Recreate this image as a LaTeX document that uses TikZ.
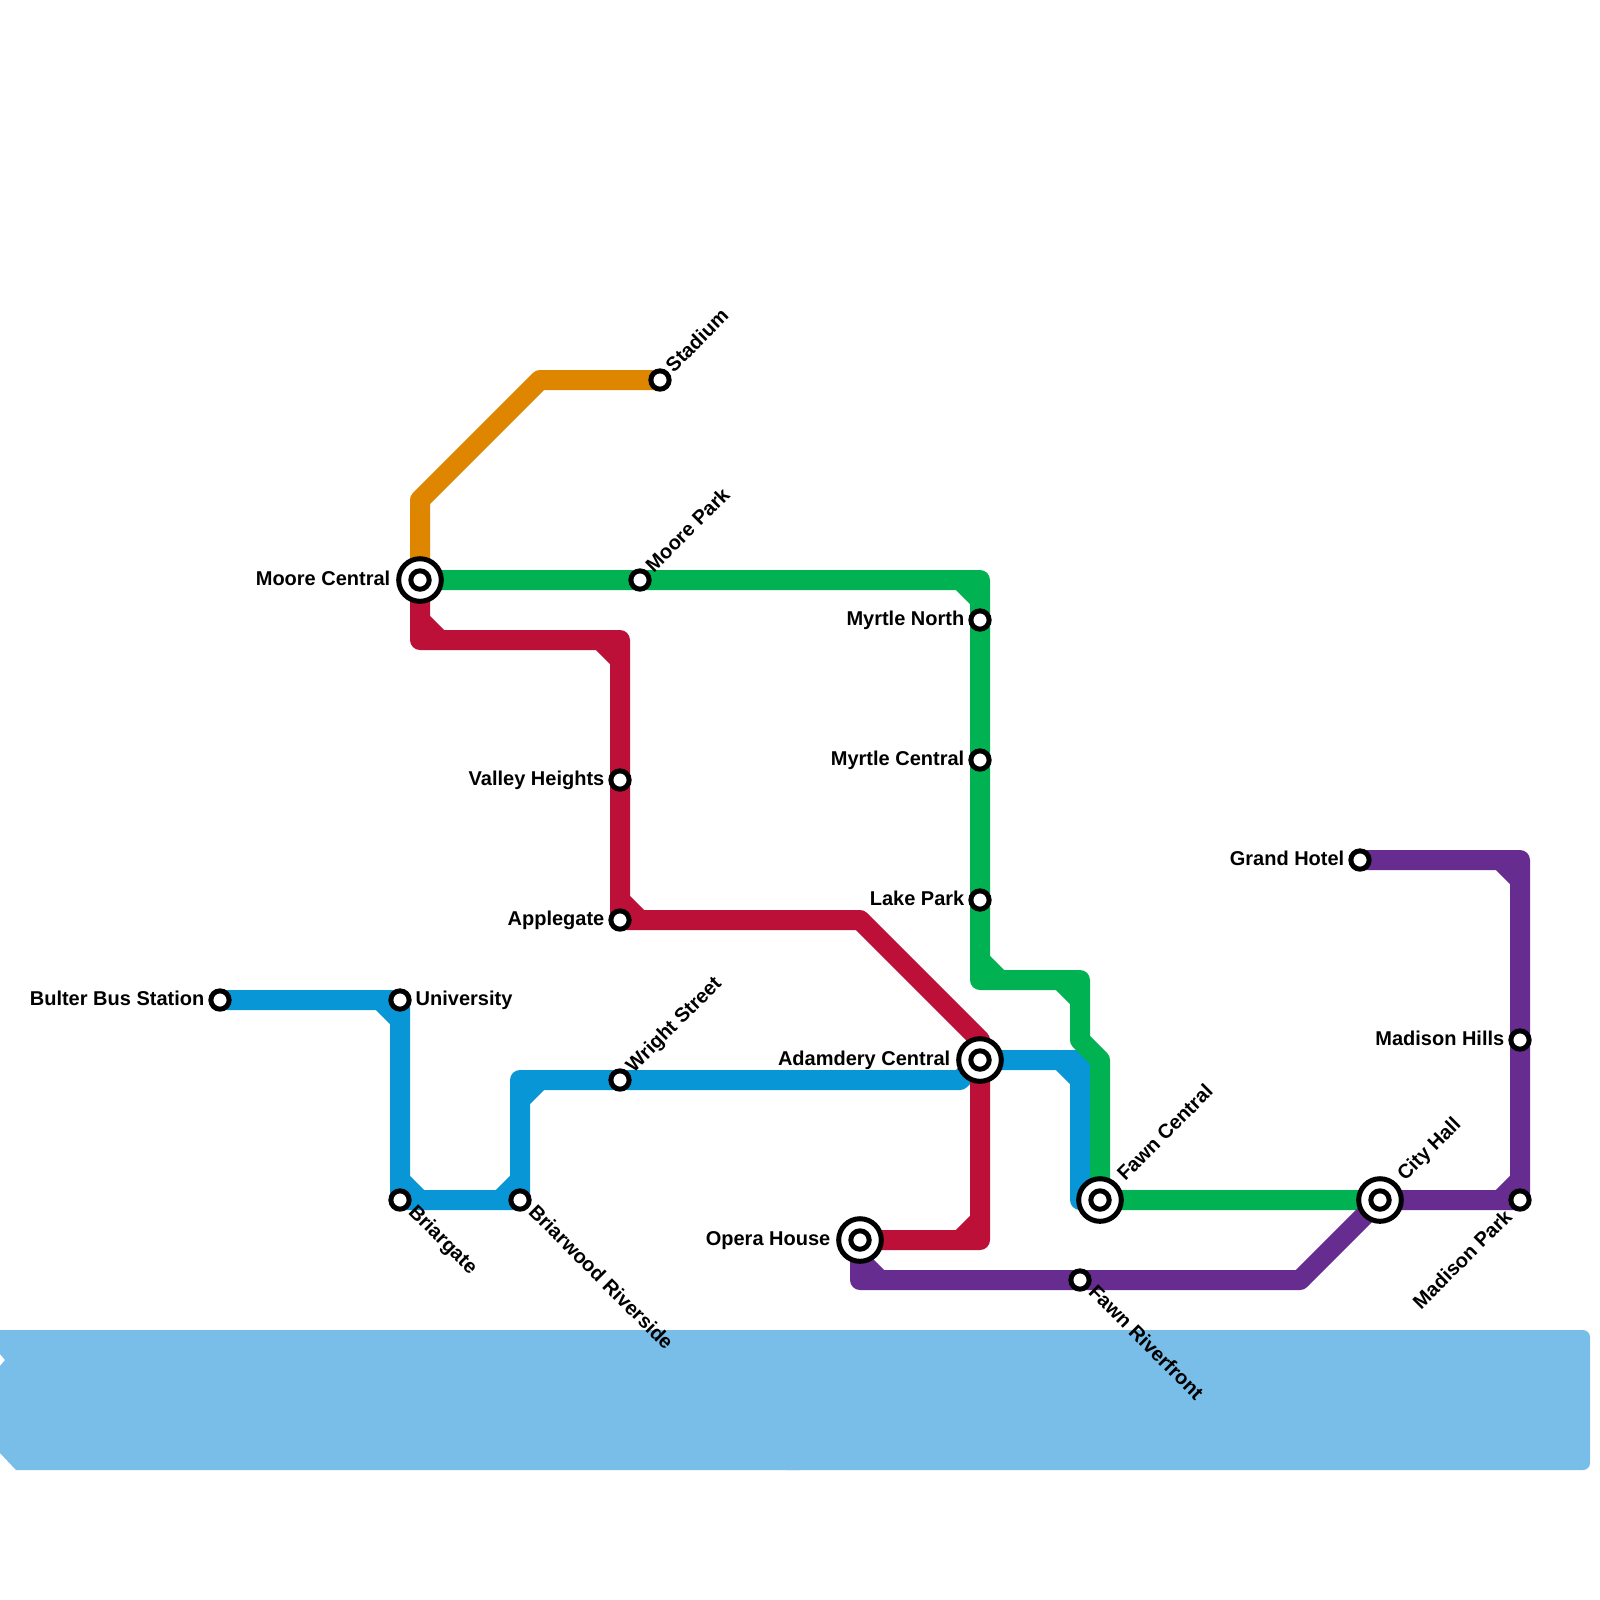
\documentclass[tikz,border=0pt]{standalone}
\usepackage{fontspec}
\setmainfont{Liberation Sans}
\usetikzlibrary{backgrounds}
\definecolor{waterblue}{HTML}{79BDE9}
\definecolor{lineblue}{HTML}{0896D7}
\definecolor{linered}{HTML}{BD1038}
\definecolor{linegreen}{HTML}{00B251}
\definecolor{lineorange}{HTML}{DF8600}
\definecolor{linepurple}{HTML}{662C90}
\tikzset{
  metroline/.style={line width=.2cm,line join=round},
  stationdot/.style={circle,draw=black,fill=white,line width=.05cm,inner sep=0pt,minimum size=.183cm},
  hubstation/.style={stationdot,minimum size=.426cm,
    path picture={\draw[line width=.05cm] (path picture bounding box.center) circle (.092cm);}},
  stationname/.style={inner sep=0pt,font=\fontsize{5.69}{7}\selectfont\bfseries},
  toleft/.style={stationname,anchor=base east,xshift=-#1,yshift=-.05cm},
  toright/.style={stationname,anchor=base west,xshift=#1,yshift=-.05cm},
  upright/.style={stationname,rotate=45,anchor=base west,xshift=#1,yshift=-.05cm},
  downright/.style={stationname,rotate=-45,anchor=base west,xshift=#1,yshift=-.04cm},
  downleft/.style={stationname,rotate=45,anchor=base east,xshift=-#1,yshift=-.08cm},
}
\begin{document}
\begin{tikzpicture}[x=.2cm,y=-.2cm]
  \useasboundingbox (0,0) rectangle (80,80);
  % stations
  \node[hubstation] (moorecentral) at (21,29) {};
  \node[stationdot] (moorepark) at (32,29) {};
  \node[stationdot] (stadium) at (33,19) {};
  \node[stationdot] (myrtlenorth) at (49,31) {};
  \node[stationdot] (myrtlecentral) at (49,38) {};
  \node[stationdot] (lakepark) at (49,45) {};
  \node[stationdot] (valleyheights) at (31,39) {};
  \node[stationdot] (applegate) at (31,46) {};
  \node[stationdot] (bulter) at (11,50) {};
  \node[stationdot] (university) at (20,50) {};
  \node[stationdot] (briargate) at (20,60) {};
  \node[stationdot] (briarwood) at (26,60) {};
  \node[stationdot] (wrightstreet) at (31,54) {};
  \node[hubstation] (adamdery) at (49,53) {};
  \node[hubstation] (fawncentral) at (55,60) {};
  \node[hubstation] (operahouse) at (43,62) {};
  \node[stationdot] (fawnriverfront) at (54,64) {};
  \node[hubstation] (cityhall) at (69,60) {};
  \node[stationdot] (grandhotel) at (68,43) {};
  \node[stationdot] (madisonhills) at (76,52) {};
  \node[stationdot] (madisonpark) at (76,60) {};
  % names
  \node[toleft=.29cm] (moorecentral-name) at (moorecentral) {Moore Central};
  \node[upright=.14cm] (moorepark-name) at (moorepark) {Moore Park};
  \node[upright=.14cm] (stadium-name) at (stadium) {Stadium};
  \node[toleft=.15cm] (myrtlenorth-name) at (myrtlenorth) {Myrtle North};
  \node[toleft=.15cm] (myrtlecentral-name) at (myrtlecentral) {Myrtle Central};
  \node[toleft=.15cm] (lakepark-name) at (lakepark) {Lake Park};
  \node[toleft=.15cm] (valleyheights-name) at (valleyheights) {Valley Heights};
  \node[toleft=.15cm] (applegate-name) at (applegate) {Applegate};
  \node[toleft=.15cm] (bulter-name) at (bulter) {Bulter Bus Station};
  \node[toright=.15cm] (university-name) at (university) {University};
  \node[downright=.14cm] (briargate-name) at (briargate) {Briargate};
  \node[downright=.14cm] (briarwood-name) at (briarwood) {Briarwood Riverside};
  \node[upright=.14cm] (wrightstreet-name) at (wrightstreet) {Wright Street};
  \node[toleft=.29cm] (adamdery-name) at (adamdery) {Adamdery Central};
  \node[upright=.3cm] (fawncentral-name) at (fawncentral) {Fawn Central};
  \node[toleft=.29cm] (operahouse-name) at (operahouse) {Opera House};
  \node[downright=.14cm] (fawnriverfront-name) at (fawnriverfront) {Fawn Riverfront};
  \node[upright=.3cm] (cityhall-name) at (cityhall) {City Hall};
  \node[toleft=.15cm] (grandhotel-name) at (grandhotel) {Grand Hotel};
  \node[toleft=.15cm] (madisonhills-name) at (madisonhills) {Madison Hills};
  \node[downleft=.17cm] (madisonpark-name) at (madisonpark) {Madison Park};
  \begin{scope}[on background layer]
    % water
    \fill[waterblue,rounded corners=.07cm] (39,66.5) rectangle (79.5,73.5);
    \fill[waterblue] (0,66.5) -- (40,66.5) -- (40,73.5) -- (.8,73.5) -- (0,72.65) -- (0,68.3) -- (.25,68) -- (0,67.7) -- cycle;
    % lines, each corner with its short diagonal
    \draw[metroline,lineblue] (bulter.center) -- (university.center) -- (briargate.center) -- (briarwood.center)
      -- (26,54) -- (wrightstreet.center) -- (48,54) -- (adamdery.center) -- (54,53) -- (54,60) -- (fawncentral.center)
      (19,50) -- (20,51) (20,59) -- (21,60) (25,60) -- (26,59) (26,55) -- (27,54) (53,53) -- (54,54) (54,59) -- (55,60);
    \draw[metroline,linered] (moorecentral.center) -- (21,32) -- (31,32) -- (valleyheights.center) -- (applegate.center)
      -- (43,46) -- (49,52) -- (adamdery.center) -- (49,62) -- (operahouse.center)
      (21,31) -- (22,32) (30,32) -- (31,33) (31,45) -- (32,46) (49,61) -- (48,62);
    \draw[metroline,linegreen] (moorecentral.center) -- (moorepark.center) -- (49,29) -- (myrtlenorth.center)
      -- (myrtlecentral.center) -- (lakepark.center) -- (49,49) -- (54,49) -- (54,52) -- (55,53)
      -- (fawncentral.center) -- (cityhall.center)
      (48,29) -- (49,30) (49,48) -- (50,49) (53,49) -- (54,50);
    \draw[metroline,lineorange] (stadium.center) -- (27,19) -- (21,25) -- (moorecentral.center);
    \draw[metroline,linepurple] (grandhotel.center) -- (76,43) -- (madisonhills.center) -- (madisonpark.center)
      -- (cityhall.center) -- (65,64) -- (fawnriverfront.center) -- (43,64) -- (operahouse.center)
      (75,43) -- (76,44) (76,59) -- (75,60) (44,64) -- (43,63);
  \end{scope}
\end{tikzpicture}
\end{document}
